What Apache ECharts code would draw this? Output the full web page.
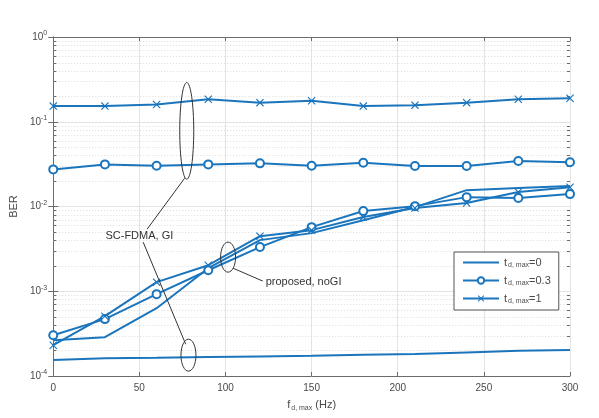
<!DOCTYPE html>
<html>
<head>
<meta charset="utf-8">
<script src="https://cdn.jsdelivr.net/npm/echarts@6/dist/echarts.min.js"></script>
<style>
  html, body { margin: 0; padding: 0; background: #fff; }
  #chart { width: 599px; height: 418px; }
</style>
</head>
<body>
<div id="chart"></div>
<script>
// Doppler spread f_d,max (Hz)
const fdMax = [0, 30, 60, 90, 120, 150, 180, 210, 240, 270, 300]

// SC-FDMA with GI
const giT0 = [1.54e-4, 1.62e-4, 1.64e-4, 1.67e-4, 1.70e-4, 1.73e-4, 1.78e-4, 1.82e-4, 1.90e-4, 1.98e-4, 2.02e-4]
const giT03 = [0.0274, 0.0314, 0.0302, 0.0314, 0.0323, 0.0302, 0.0328, 0.0300, 0.0300, 0.0344, 0.0332]
const giT1 = [0.153, 0.153, 0.160, 0.184, 0.168, 0.177, 0.153, 0.157, 0.168, 0.184, 0.189]

// proposed, no GI
const noGiT0 = [2.65e-4, 2.87e-4, 6.31e-4, 1.87e-3, 4.01e-3, 4.85e-3, 6.90e-3, 9.84e-3, 1.56e-2, 1.65e-2, 1.74e-2]
const noGiT03 = [3.03e-4, 4.69e-4, 9.24e-4, 1.77e-3, 3.32e-3, 5.71e-3, 8.83e-3, 1.01e-2, 1.29e-2, 1.26e-2, 1.40e-2]
const noGiT1 = [2.31e-4, 5.08e-4, 1.28e-3, 2.03e-3, 4.47e-3, 5.26e-3, 7.50e-3, 9.58e-3, 1.10e-2, 1.48e-2, 1.69e-2]

const legendValues = { t0: '0', t03: '0.3', t1: '1' }

// minor log ticks 2..9 x 10^k
const minorTicks = []
for (let e = -4; e < 0; e++) {
  for (let k = 2; k <= 9; k++) minorTicks.push(k * Math.pow(10, e))
}

const BLUE = '#1a75bd'
const AXIS = '#6b6b6b'
const TEXT = '#4a4a4a'
const FONT = 'Liberation Sans, Arial, sans-serif'
const X_SYMBOL = 'path://M1,0L5,4L9,0L10,1L6,5L10,9L9,10L5,6L1,10L0,9L4,5L0,1Z'

const pairs = arr => fdMax.map((x, i) => [x, arr[i]])

const mkSeries = (name, values, kind) => {
  const s = {
    name,
    type: 'line',
    data: pairs(values),
    lineStyle: { width: 2, color: BLUE },
    itemStyle: { color: BLUE },
    z: 3
  }
  if (kind === 'none') {
    s.symbol = 'none'
  } else if (kind === 'o') {
    s.symbol = 'emptyCircle'
    s.symbolSize = 8
    s.itemStyle = { color: BLUE, borderColor: BLUE, borderWidth: 1.8 }
  } else {
    s.symbol = X_SYMBOL
    s.symbolSize = 8
  }
  return s
}

const chart = echarts.init(document.getElementById('chart'), null, { renderer: 'canvas' })

const supLabel = v => '{b|10}{s|' + Math.round(Math.log10(v)) + '}'

const option = {
  animation: false,
  textStyle: { fontFamily: FONT },
  grid: { left: 47, right: 29, top: 37, bottom: 42, show: false },
  legend: {
    orient: 'vertical',
    left: 454,
    top: 252,
    backgroundColor: '#fff',
    borderColor: '#555',
    borderWidth: 1,
    borderRadius: 0,
    padding: [5, 8, 5, 8],
    itemWidth: 36,
    itemHeight: 8,
    itemGap: 6,
    data: [
      { name: 't0', itemStyle: { opacity: 0 } },
      { name: 't03' },
      { name: 't1' }
    ],
    formatter: n => '{t|t}{sub|d, max}{t|=' + legendValues[n] + '}',
    textStyle: {
      color: TEXT,
      rich: {
        t: { fontSize: 11, color: TEXT, fontFamily: FONT },
        sub: { fontSize: 7, color: TEXT, fontFamily: FONT, padding: [6, 0, 0, 1] }
      }
    }
  },
  xAxis: [
    {
      type: 'value',
      min: 0,
      max: 300,
      interval: 50,
      name: '{t|f}{sub|d, max}{t| (Hz)}',
      nameLocation: 'middle',
      nameGap: 22,
      nameTextStyle: {
        rich: {
          t: { fontSize: 11, color: TEXT, fontFamily: FONT },
          sub: { fontSize: 7, color: TEXT, fontFamily: FONT, padding: [7, 0, 0, 1] }
        }
      },
      axisLine: { lineStyle: { color: AXIS, width: 1 } },
      axisTick: { inside: true, length: 4, lineStyle: { color: AXIS } },
      axisLabel: { color: TEXT, fontSize: 10, margin: 7 },
      splitLine: { show: true, lineStyle: { color: '#e3e3e3', width: 1 } }
    },
    {
      type: 'value',
      position: 'top',
      min: 0,
      max: 300,
      interval: 50,
      axisLine: { lineStyle: { color: AXIS, width: 1 } },
      axisTick: { inside: true, length: 4, lineStyle: { color: AXIS } },
      axisLabel: { show: false },
      splitLine: { show: false }
    }
  ],
  yAxis: [
    {
      type: 'log',
      logBase: 10,
      min: 1e-4,
      max: 1,
      name: 'BER',
      nameLocation: 'middle',
      nameGap: 28,
      nameTextStyle: { color: TEXT, fontSize: 11 },
      axisLine: { show: true, lineStyle: { color: AXIS, width: 1 } },
      axisTick: { inside: true, length: 5, lineStyle: { color: AXIS } },
      axisLabel: {
        formatter: supLabel,
        margin: 6,
        rich: {
          b: { fontSize: 10, color: TEXT, fontFamily: FONT },
          s: { fontSize: 7, color: TEXT, fontFamily: FONT, padding: [0, 0, 7, 0] }
        }
      },
      splitLine: { show: true, lineStyle: { color: '#e3e3e3', width: 1 } }
    },
    {
      type: 'log',
      logBase: 10,
      min: 1e-4,
      max: 1,
      position: 'right',
      axisLine: { show: true, lineStyle: { color: AXIS, width: 1 } },
      axisTick: { inside: true, length: 5, lineStyle: { color: AXIS } },
      axisLabel: { show: false },
      splitLine: { show: false }
    }
  ],
  series: [
    {
      type: 'custom',
      silent: true,
      z: 1,
      data: minorTicks.map(v => [0, v]),
      renderItem: (params, api) => {
        const p = api.coord([0, api.value(1)])
        const cs = params.coordSys
        const y = Math.round(p[1]) + 0.5
        return {
          type: 'group',
          children: [
            { type: 'line', shape: { x1: cs.x, y1: y, x2: cs.x + cs.width, y2: y },
              style: { stroke: '#dcdcdc', lineWidth: 1, lineDash: [1, 2] } },
            { type: 'line', shape: { x1: cs.x, y1: y, x2: cs.x + 3, y2: y },
              style: { stroke: AXIS, lineWidth: 1 } },
            { type: 'line', shape: { x1: cs.x + cs.width - 3, y1: y, x2: cs.x + cs.width, y2: y },
              style: { stroke: AXIS, lineWidth: 1 } }
          ]
        }
      }
    },
    mkSeries('t0', giT0, 'none'),
    mkSeries('t03', giT03, 'o'),
    mkSeries('t1', giT1, 'x'),
    mkSeries('t0', noGiT0, 'none'),
    mkSeries('t03', noGiT03, 'o'),
    mkSeries('t1', noGiT1, 'x')
  ]
}

chart.setOption(option)

// annotations, anchored in data coordinates
const px = (x, y) => chart.convertToPixel({ xAxisIndex: 0, yAxisIndex: 0 }, [x, y])

const ellipse = (x, yTop, yBot, rx) => {
  const a = px(x, yTop)
  const b = px(x, yBot)
  return {
    type: 'ellipse',
    shape: { cx: a[0], cy: (a[1] + b[1]) / 2, rx, ry: (b[1] - a[1]) / 2 },
    style: { fill: null, stroke: '#333', lineWidth: 1 },
    z: 10
  }
}
const segment = (p1, p2) => {
  const a = px(p1[0], p1[1])
  const b = px(p2[0], p2[1])
  return {
    type: 'line',
    shape: { x1: a[0], y1: a[1], x2: b[0], y2: b[1] },
    style: { stroke: '#333', lineWidth: 1 },
    z: 10
  }
}
const label = (x, y, text, align) => {
  const a = px(x, y)
  return {
    type: 'text',
    x: a[0],
    y: a[1],
    style: { text, fill: '#333', font: '11px ' + FONT, align, verticalAlign: 'middle' },
    z: 10
  }
}

chart.setOption({
  graphic: [
    ellipse(77.5, 0.29, 0.021, 7),
    ellipse(78.5, 2.72e-4, 1.14e-4, 7.5),
    ellipse(101.5, 3.8e-3, 1.68e-3, 7.5),
    segment([54.5, 5.4e-3], [76.3, 0.0216]),
    segment([52.2, 3.8e-3], [76.9, 2.37e-4]),
    segment([104.4, 1.87e-3], [121.6, 1.32e-3]),
    label(50, 4.47e-3, 'SC-FDMA, GI', 'center'),
    label(123.3, 1.29e-3, 'proposed, noGI', 'left')
  ]
})
</script>
</body>
</html>
